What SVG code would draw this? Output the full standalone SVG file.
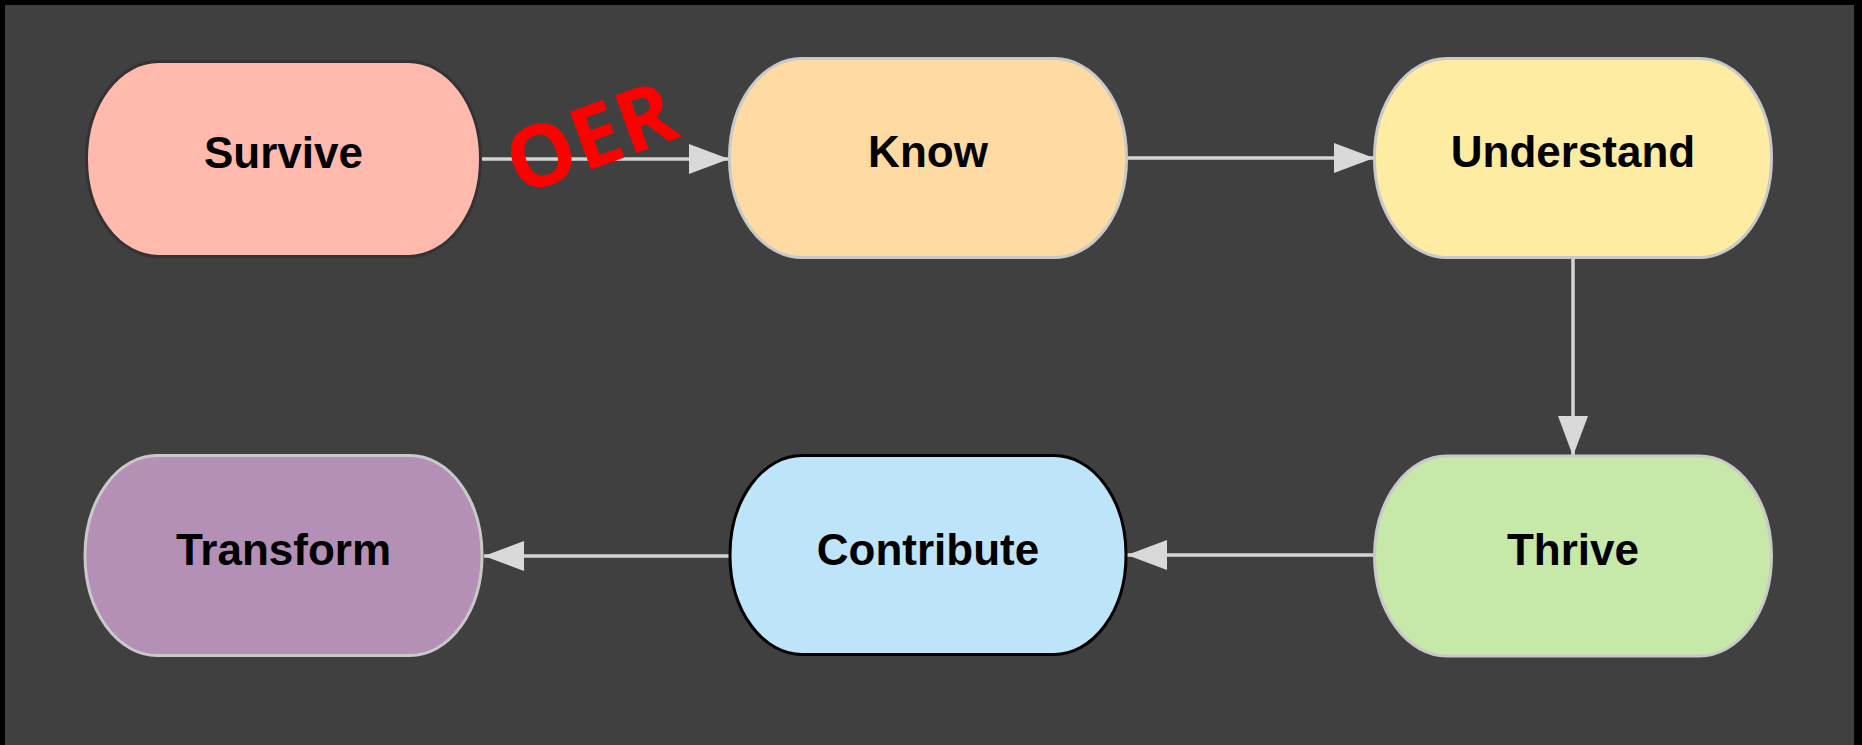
<svg xmlns="http://www.w3.org/2000/svg" width="1862" height="745" viewBox="0 0 1862 745">
<defs>
<style>
.node rect{stroke:#c9c9c9;stroke-width:3}
.node text{font-family:"Liberation Sans",Arial,sans-serif;font-weight:bold;font-size:44px;fill:#000;text-anchor:middle}
.edge{stroke:#d4d4d4;stroke-width:3.5;fill:none;marker-end:url(#arrow)}
</style>
<marker id="arrow" markerUnits="userSpaceOnUse" markerWidth="41" markerHeight="30" refX="40" refY="15" orient="auto">
<path d="M0,0 L40,15 L0,30 z" fill="#d9d9d9"/>
</marker>
</defs>
<rect x="0" y="0" width="1862" height="745" fill="#000"/>
<rect x="5" y="5" width="1849" height="740" fill="#404040"/>
<g id="connectors">
<path class="edge" d="M482,159 L729,159"/>
<path class="edge" d="M1127,158 L1374,158"/>
<path class="edge" d="M1573,259 L1573,456"/>
<path class="edge" d="M1373,555 L1127,555"/>
<path class="edge" d="M730,556 L484,556"/>
</g>
<g id="survive" class="node">
<rect x="86.5" y="61.5" width="394" height="195" rx="72" ry="97" fill="#ffb9ad" style="stroke:#333"/>
<text x="283.5" y="168">Survive</text>
</g>
<g id="know" class="node">
<rect x="729.5" y="58.5" width="397" height="199" rx="72" ry="99" fill="#ffdba3"/>
<text x="928" y="167">Know</text>
</g>
<g id="understand" class="node">
<rect x="1374.5" y="58.5" width="397" height="199" rx="72" ry="99" fill="#ffeca3"/>
<text x="1573" y="167">Understand</text>
</g>
<g id="thrive" class="node">
<rect x="1374.5" y="456" width="397" height="200" rx="72" ry="100" fill="#c6e8a8"/>
<text x="1573" y="565">Thrive</text>
</g>
<g id="contribute" class="node">
<rect x="730" y="455.5" width="396" height="199" rx="72" ry="99" fill="#bee4f9" style="stroke:#000"/>
<text x="928" y="565">Contribute</text>
</g>
<g id="transform" class="node">
<rect x="85" y="455.5" width="397" height="200" rx="72" ry="100" fill="#b48fb6"/>
<text x="283.5" y="565">Transform</text>
</g>
<text id="oer" transform="translate(601,166) rotate(-20)" x="0" y="0" text-anchor="middle" font-family="'Open Sans','Liberation Sans',sans-serif" font-weight="bold" font-size="86" fill="#ff0000">OER</text>
</svg>
